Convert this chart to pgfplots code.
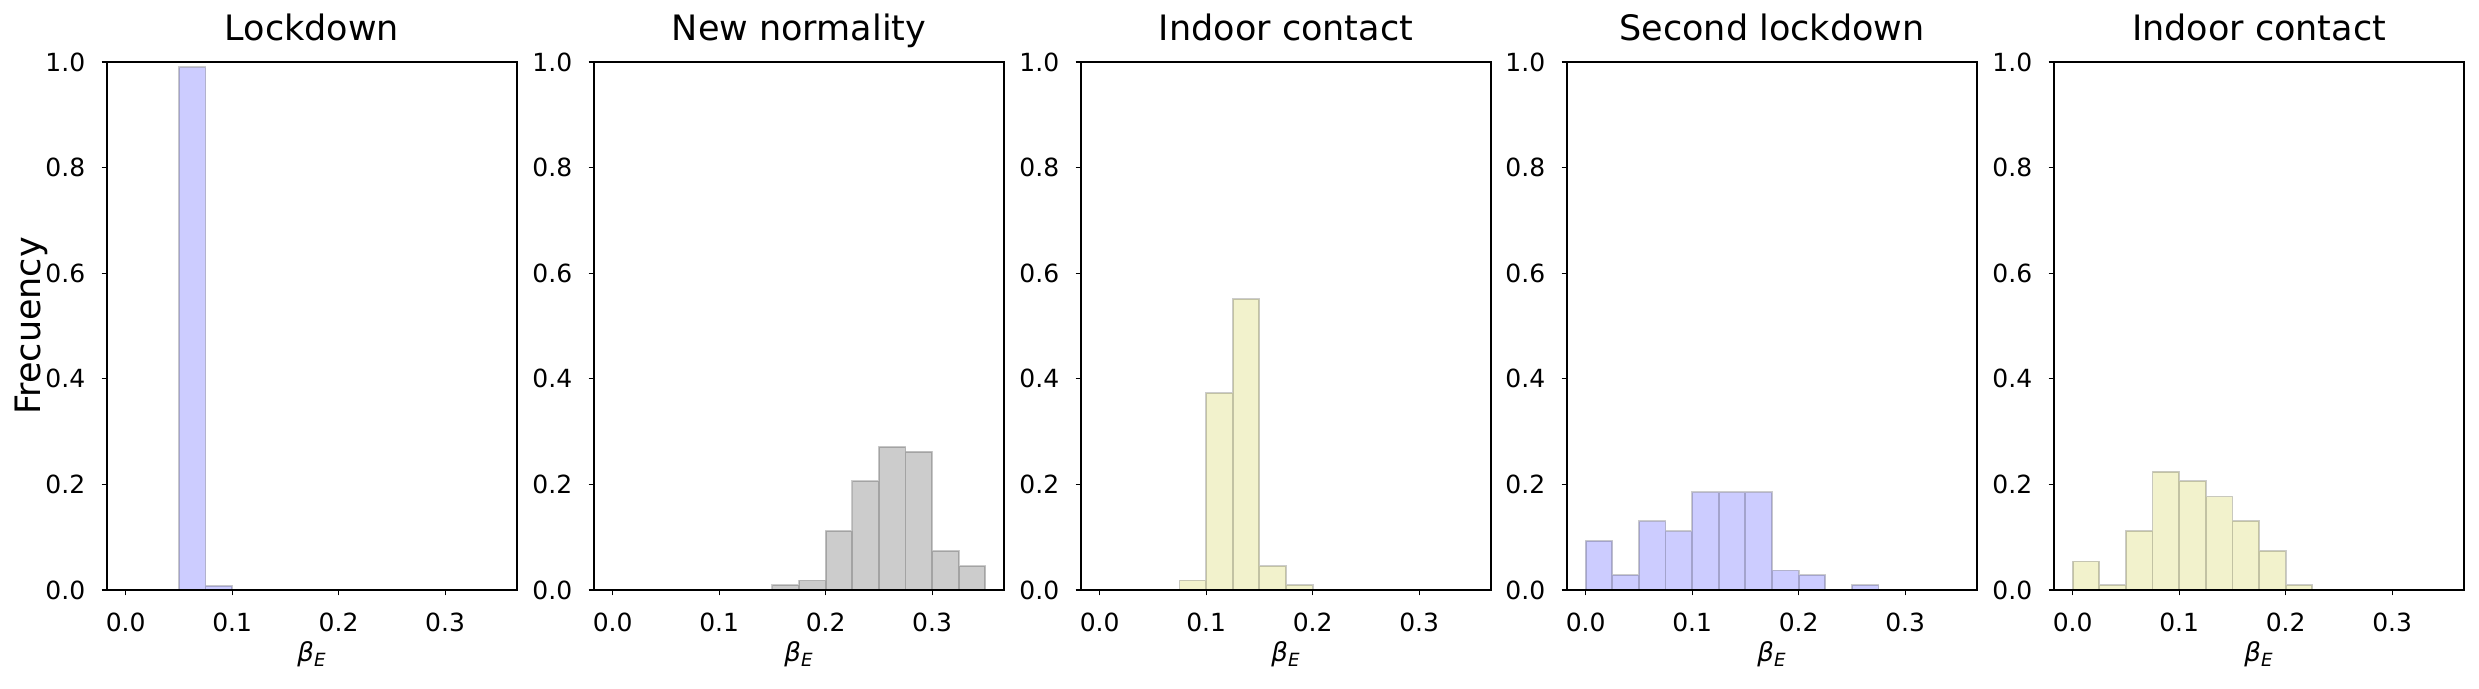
\documentclass[border=0pt]{standalone}
\usepackage{pgfplots}
\pgfplotsset{compat=1.18}
\usepackage{fontspec}
\setmainfont{DejaVu Sans}
\definecolor{myyel}{rgb}{0.75,0.75,0}
\newcommand{\tickfont}{\fontsize{12.5}{15}\selectfont}
\newcommand{\titlefont}{\fontsize{17.5}{21}\selectfont}
\pgfplotsset{
  hist/.style={
    scale only axis, width=205pt, height=264pt,
    anchor=south west,
    xmin=-0.0175, xmax=0.3675, ymin=0, ymax=1,
    xtick={0,0.1,0.2,0.3}, xticklabels={0.0,0.1,0.2,0.3},
    ytick={0,0.2,0.4,0.6,0.8,1.0}, yticklabels={0.0,0.2,0.4,0.6,0.8,1.0},
    /pgf/number format/assume math mode=true,
    tick align=outside, xtick pos=bottom, ytick pos=left,
    major tick length=2.7pt,
    axis line style={line width=0.6pt, black},
    every tick/.style={black, line width=0.6pt},
    tick label style={font=\tickfont, inner sep=0pt},
    xticklabel style={anchor=north, yshift=-8.5pt},
    yticklabel style={anchor=east, xshift=-8pt},
    title style={at={(axis description cs:0.5,1)}, anchor=base, yshift=4.5pt, font=\titlefont},
    xlabel={\textit{β}\textsubscript{\textit{E}}},
    xlabel style={at={(axis description cs:0.5,0)}, anchor=base, yshift=-36pt, font=\fontsize{13}{15}\selectfont},
    axis on top,
  },
  bars/.style={ybar interval, fill=#1, fill opacity=0.2, draw=black, draw opacity=0.2, line width=0.9pt},
}
\begin{document}
\begin{tikzpicture}
\useasboundingbox (0,0) rectangle (1239.5pt,344.5pt);

\begin{axis}[hist, at={(53.5pt,49.5pt)}, title={Lockdown},
  ylabel={Frecuency},
  ylabel style={at={(axis description cs:-0.1634,0.5)}, anchor=base, font=\titlefont}]
\addplot[bars=blue] coordinates {(0.05,0.990) (0.075,0.008) (0.1,0)};
\end{axis}

\begin{axis}[hist, at={(297pt,49.5pt)}, title={New normality}]
\addplot[bars=black] coordinates {(0.15,0.009) (0.175,0.018) (0.2,0.112) (0.225,0.206) (0.25,0.271) (0.275,0.262) (0.3,0.074) (0.325,0.045) (0.35,0)};
\end{axis}

\begin{axis}[hist, at={(540.5pt,49.5pt)}, title={Indoor contact}]
\addplot[bars=myyel] coordinates {(0.075,0.018) (0.1,0.373) (0.125,0.551) (0.15,0.045) (0.175,0.009) (0.2,0)};
\end{axis}

\begin{axis}[hist, at={(783.5pt,49.5pt)}, title={Second lockdown}]
\addplot[bars=blue] coordinates {(0,0.093) (0.025,0.028) (0.05,0.130) (0.075,0.111) (0.1,0.185) (0.125,0.185) (0.15,0.185) (0.175,0.037) (0.2,0.028) (0.225,0) (0.25,0.009) (0.275,0)};
\end{axis}

\begin{axis}[hist, at={(1027pt,49.5pt)}, title={Indoor contact}]
\addplot[bars=myyel] coordinates {(0,0.054) (0.025,0.009) (0.05,0.112) (0.075,0.224) (0.1,0.206) (0.125,0.177) (0.15,0.131) (0.175,0.074) (0.2,0.009) (0.225,0)};
\end{axis}
\end{tikzpicture}
\end{document}
